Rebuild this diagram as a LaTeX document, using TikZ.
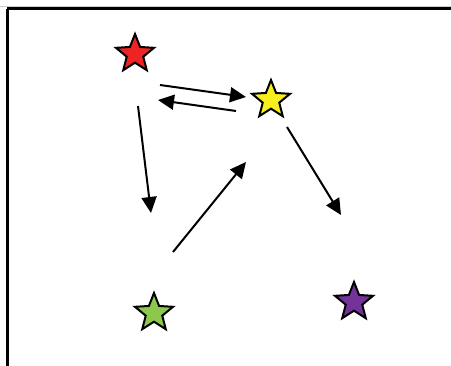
\documentclass[tikz,border=0pt]{standalone}
\usetikzlibrary{shapes.geometric,arrows.meta}
\definecolor{cred}{HTML}{EE2424}
\definecolor{cyellow}{HTML}{F6EE1E}
\definecolor{cgreen}{HTML}{8DC84C}
\definecolor{cpurple}{HTML}{73339B}
\tikzset{
  starnode/.style={star,star points=5,star point ratio=2.3,minimum size=40pt,inner sep=0pt,draw=black,line width=2pt},
  arr/.style={line width=2pt,-{Triangle[length=16pt,width=15pt]}}
}
\begin{document}
\begin{tikzpicture}[x=1pt,y=-1pt]
\useasboundingbox (0,0) rectangle (451,366);
\fill[white] (0,0) rectangle (451,366);
\draw[gray!40,line width=1.5pt] (0,6.5) -- (451,6.5);
\draw[black,line width=3pt] (7,9) -- (451,9);
\draw[black,line width=3pt] (7,9) -- (7,366);
\node[starnode,fill=cred] (r) at (135,54) {};
\node[starnode,fill=cyellow] (y) at (271,100) {};
\node[starnode,fill=cgreen] (g) at (154,313) {};
\node[starnode,fill=cpurple] (p) at (354,302) {};
\coordinate (a1s) at (160,85);
\coordinate (a1e) at (246,97);
\coordinate (a2s) at (236,111);
\coordinate (a2e) at (158,100);
\coordinate (a3s) at (138,106);
\coordinate (a3e) at (151,213);
\coordinate (a4s) at (173,252);
\coordinate (a4e) at (246,162);
\coordinate (a5s) at (287,127);
\coordinate (a5e) at (341,215);
\draw[arr] (a1s) -- (a1e);
\draw[arr] (a2s) -- (a2e);
\draw[arr] (a3s) -- (a3e);
\draw[arr] (a4s) -- (a4e);
\draw[arr] (a5s) -- (a5e);
\end{tikzpicture}
\end{document}
